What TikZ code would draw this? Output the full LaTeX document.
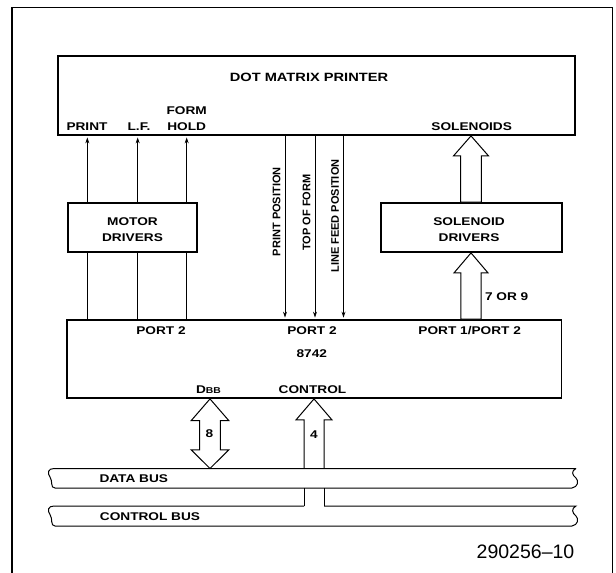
\documentclass[tikz,border=0pt]{standalone}
\usepackage{fontspec}
\setmainfont{Liberation Sans}
\newfontfamily\labfont{Liberation Sans Bold}[FakeStretch=1.22]
\newfontfamily\vlabfont{Liberation Sans Bold}
\usetikzlibrary{arrows.meta,calc}
\begin{document}
\begin{tikzpicture}[x=1pt,y=-1pt,
  box/.style={draw, line width=1.8pt, inner sep=0pt},
  lab/.style={inner sep=0pt, anchor=base, font=\labfont\fontsize{11.2}{13}\selectfont},
  vlab/.style={inner sep=0pt, rotate=90, font=\vlabfont\fontsize{11}{13}\selectfont},
  sig/.style={line width=0.9pt, -{Stealth[length=6pt,width=4pt]}, shorten >=1.5pt},
  wire/.style={line width=0.9pt},
  hollow/.style={line width=1pt, line join=miter, fill=white},
  busline/.style={line width=1pt},
  frame/.style={line width=1.2pt}]
\useasboundingbox (0,0) rectangle (616,573);

% outer frame
\draw[frame] (12,573) -- (12,7.5) -- (612.5,7.5) -- (612.5,573);

% boxes
\node[box, minimum width=517pt, minimum height=79pt] (dmp) at (316.2,95.5) {};
\node[box, minimum width=129.6pt, minimum height=49pt] (md) at (132.5,227.5) {};
\node[box, minimum width=181.3pt, minimum height=49pt] (sd) at (471.4,227.5) {};
\node[box, minimum width=494.8pt, minimum height=78pt] (port) at (314.1,359) {};

% printer labels
\node[lab, font=\labfont\fontsize{12}{14}\selectfont] (title) at (309,81.6) {DOT MATRIX PRINTER};
\node[lab] (lprint) at (87,130) {PRINT};
\node[lab] (llf) at (139,130) {L.F.};
\node[lab] (lform) at (186.7,114) {FORM};
\node[lab] (lhold) at (186.7,130) {HOLD};
\node[lab] (lsol) at (471.7,130) {SOLENOIDS};

% driver labels
\node[lab] (lmotor) at (132.5,225.5) {MOTOR};
\node[lab] (ldrv1) at (132.5,241) {DRIVERS};
\node[lab] (lsolen) at (469,225.5) {SOLENOID};
\node[lab] (ldrv2) at (469,241) {DRIVERS};
\node[lab] (l79) at (506.7,300.3) {7 OR 9};

% 8742 labels
\node[lab] (lp2a) at (161,334.3) {PORT 2};
\node[lab] (lp2b) at (312,334.3) {PORT 2};
\node[lab] (lp12) at (469.7,334.3) {PORT 1/PORT 2};
\node[lab] (lchip) at (311.8,357.7) {8742};
\node[lab] (ldbb) at (208.5,393.3) {D\fontsize{8.5}{10}\selectfont BB};
\node[lab] (lctl) at (312.5,393.3) {CONTROL};

% x positions of signals
\coordinate (c1) at (87.3,0);
\coordinate (c2) at (137.7,0);
\coordinate (c3) at (186.7,0);
\coordinate (p1) at (285,0);
\coordinate (p2) at (315,0);
\coordinate (p3) at (343.5,0);
\coordinate (xs) at (471,0);
\coordinate (xd) at (210,0);
\coordinate (xc) at (314,0);
% bus edges
\coordinate (db1) at (0,468.5);
\coordinate (db2) at (0,488);
\coordinate (cb1) at (0,506);
\coordinate (cb2) at (0,526);

% motor driver signals
\foreach \c in {c1,c2,c3} {
  \draw[sig] (\c |- md.north) -- (\c |- dmp.south);
  \draw[wire] (\c |- port.north) -- (\c |- md.south);
}
% sensor signals
\foreach \c in {p1,p2,p3} {
  \draw[sig] (\c |- dmp.south) -- (\c |- port.north);
}
\node[vlab] (lpp) at (276.7,211.7) {PRINT POSITION};
\node[vlab] (ltof) at (306.7,212.5) {TOP OF FORM};
\node[vlab] (llfp) at (335,216) {LINE FEED POSITION};

% solenoid hollow arrows
\draw[hollow] (xs |- dmp.south) -- ++(17.5,20) -- ++(-7.2,0)
  -- ($(xs |- sd.north)+(10.3,0)$) -- ($(xs |- sd.north)+(-10.3,0)$)
  -- ($(xs |- dmp.south)+(-10.3,20)$) -- ++(-7.2,0) -- cycle;
\draw[hollow] (xs |- sd.south) -- ++(17,20) -- ++(-6.8,0)
  -- ($(xs |- port.north)+(10.2,0)$) -- ($(xs |- port.north)+(-10.2,0)$)
  -- ($(xs |- sd.south)+(-10.2,20)$) -- ++(-6.8,0) -- cycle;

% DBB double hollow arrow
\draw[hollow] (xd |- port.south) -- ++(18.8,21.7) -- ++(-8.5,0)
  -- ($(xd |- db1)+(10.3,-18.7)$) -- ++(8.5,0) -- (xd |- db1)
  -- ++(-18.8,-18.7) -- ++(8.5,0)
  -- ($(xd |- port.south)+(-10.3,21.7)$) -- ++(-8.5,0) -- cycle;
\node[lab] (l8) at (209.5,437.7) {8};

% control hollow arrow
\draw[hollow] ($(xc |- db1)+(-10,0)$) -- ($(xc |- port.south)+(-10,21)$) -- ++(-8,0)
  -- (xc |- port.south) -- ++(18,21) -- ++(-8,0) -- ($(xc |- db1)+(10,0)$);
\draw[busline] ($(xc |- db2)+(-10,0)$) -- ($(xc |- cb1)+(-10,0)$);
\draw[busline] ($(xc |- db2)+(10,0)$) -- ($(xc |- cb1)+(10,0)$);
\node[lab] (l4) at (314,438.7) {4};

% data bus
\draw[busline] (576,468.5) -- (54,468.5)
  .. controls (48,468.5) and (47,473) .. (50,477)
  .. controls (53,481) and (50,488) .. (55,488) -- (572,488)
  .. controls (578,487) and (579,481) .. (576,478)
  .. controls (572,475) and (571,471) .. (576,468.5);
% control bus
\draw[busline] ($(xc |- cb1)+(-10,0)$) -- (54,506)
  .. controls (48,506) and (47,510.5) .. (50,514.5)
  .. controls (53,518.5) and (50,526) .. (55,526) -- (572,526)
  .. controls (578,525) and (579,519) .. (576,516)
  .. controls (572,513) and (571,508.5) .. (576,506) -- ($(xc |- cb1)+(10,0)$);
\node[lab] (ldb) at (133.8,482) {DATA BUS};
\node[lab] (lcb) at (150,520) {CONTROL BUS};

% figure number
\node[inner sep=0pt, anchor=base, font=\fontsize{19.5}{22}\selectfont] (fig) at (525.5,558) {290256–10};
\end{tikzpicture}
\end{document}
